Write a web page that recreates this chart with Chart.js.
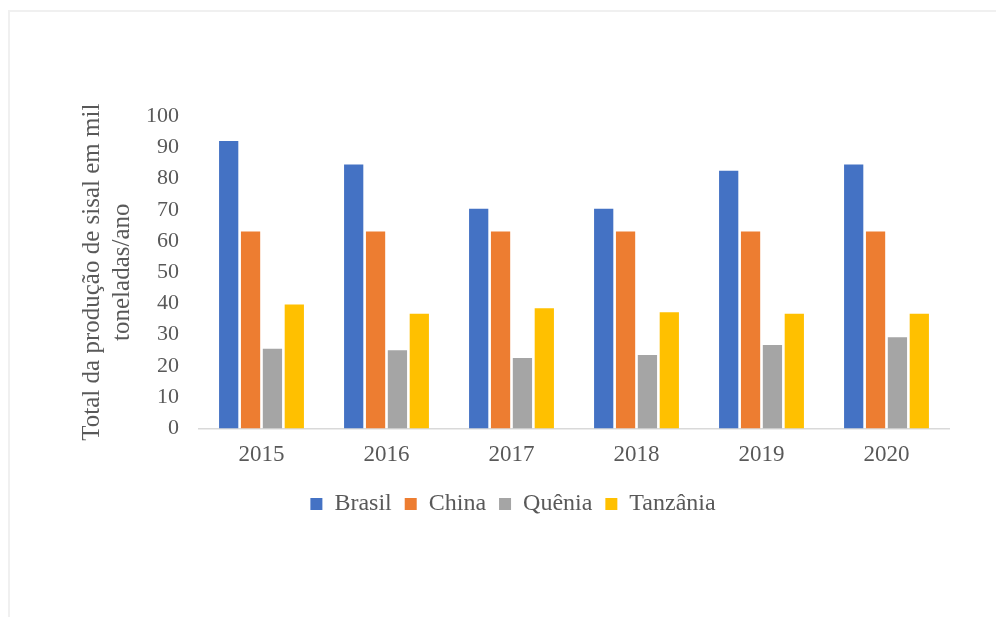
<!DOCTYPE html>
<html lang="pt">
<head>
<meta charset="utf-8">
<title>Produção de sisal</title>
<script src="https://cdn.jsdelivr.net/npm/chart.js@4/dist/chart.umd.min.js"></script>
<style>
  html, body { margin: 0; padding: 0; background: #fff; overflow: hidden; }
  .frame {
    position: absolute; left: 8px; top: 10px;
    width: 1000px; height: 1000px;
    border: 2px solid #f0f0f0;
  }
  .wrap { position: absolute; left: 0; top: 0; width: 996px; height: 617px; }
</style>
</head>
<body>
<div class="frame"></div>
<div class="wrap"><canvas id="sisal-chart"></canvas></div>
<script>
    'use strict';

    // Produção anual de sisal (mil toneladas/ano)
    const anos = ['2015', '2016', '2017', '2018', '2019', '2020'];
    const brasil = [92, 84.5, 70.3, 70.3, 82.5, 84.5];
    const china = [63, 63, 63, 63, 63, 63];
    const quenia = [25.5, 25, 22.5, 23.5, 26.7, 29.2];
    const tanzania = [39.7, 36.7, 38.5, 37.2, 36.7, 36.7];

    const textColor = '#595959';
    const serif = "'Liberation Serif', 'Times New Roman', serif";

    const ctx = document.getElementById('sisal-chart').getContext('2d');
    new Chart(ctx, {
        type: 'bar',
        data: {
            labels: anos,
            datasets: [
                { label: 'Brasil', data: brasil, backgroundColor: '#4472C4' },
                { label: 'China', data: china, backgroundColor: '#ED7D31' },
                { label: 'Quênia', data: quenia, backgroundColor: '#A5A5A5' },
                { label: 'Tanzânia', data: tanzania, backgroundColor: '#FFC000' }
            ]
        },
        options: {
            responsive: true,
            maintainAspectRatio: false,
            animation: false,
            layout: {
                padding: { left: 77, right: 47, top: 116, bottom: 91 }
            },
            datasets: {
                bar: {
                    categoryPercentage: 0.7,
                    barPercentage: 0.88
                }
            },
            plugins: {
                tooltip: { enabled: false },
                legend: {
                    position: 'bottom',
                    labels: {
                        boxWidth: 12,
                        boxHeight: 12,
                        padding: 13,
                        color: textColor,
                        font: { family: serif, size: 24 }
                    }
                }
            },
            scales: {
                x: {
                    grid: { display: false, drawTicks: false },
                    border: { display: true, color: '#d9d9d9', width: 1.5 },
                    ticks: {
                        padding: 13,
                        color: textColor,
                        font: { family: serif, size: 23, lineHeight: 1.2 }
                    },
                    // keep the band under the axis at a fixed height
                    afterFit: function(scale) {
                        scale.height = 50.6;
                    }
                },
                y: {
                    min: 0,
                    max: 100,
                    grid: { display: false, drawTicks: false },
                    border: { display: false },
                    ticks: {
                        stepSize: 10,
                        padding: 20,
                        color: textColor,
                        font: { family: serif, size: 22 }
                    },
                    title: {
                        display: true,
                        text: ['Total da produção de sisal em mil', 'toneladas/ano'],
                        color: textColor,
                        font: { family: serif, size: 25, lineHeight: 1.2 },
                        padding: { top: 0, bottom: -11 }
                    }
                }
            }
        }
    });
</script>
</body>
</html>
